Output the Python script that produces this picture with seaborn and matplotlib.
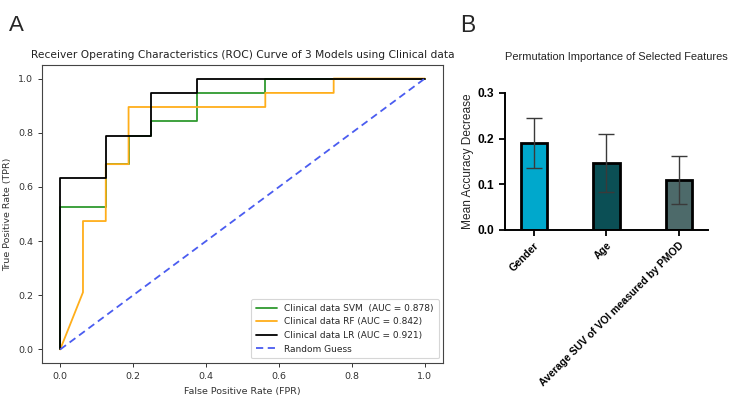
import numpy as np
import pandas as pd
import matplotlib
matplotlib.use("Agg")
import matplotlib.pyplot as plt
import seaborn as sns

# ROC curve points
svm_fpr = [0, 0, 0.125, 0.125, 0.1875, 0.1875, 0.25, 0.25, 0.375, 0.375, 0.5625, 0.5625, 1.0]
svm_tpr = [0, 0.526, 0.526, 0.684, 0.684, 0.789, 0.789, 0.842, 0.842, 0.947, 0.947, 1.0, 1.0]

rf_fpr = [0, 0.0625, 0.0625, 0.125, 0.125, 0.1875, 0.1875, 0.5625, 0.5625, 0.75, 0.75, 1.0]
rf_tpr = [0, 0.211, 0.474, 0.474, 0.684, 0.684, 0.895, 0.895, 0.947, 0.947, 1.0, 1.0]

lr_fpr = [0, 0, 0.125, 0.125, 0.25, 0.25, 0.375, 0.375, 1.0]
lr_tpr = [0, 0.632, 0.632, 0.789, 0.789, 0.947, 0.947, 1.0, 1.0]

guess_x = [0, 1]
guess_y = [0, 1]

# permutation importance (panel B)
features = ["Gender", "Age", "Average SUV of VOI measured by PMOD"]
imp_mean = [0.191, 0.146, 0.109]
imp_err = [0.055, 0.063, 0.052]
bar_colors = ["#00a8cc", "#0b4f55", "#4d6a6a"]

sns.set_theme(style="ticks")
plt.rcParams["font.family"] = ["DejaVu Sans"]
arial = ["Liberation Sans", "DejaVu Sans"]

fig = plt.figure(figsize=(7.36, 4.04), dpi=100)

# ---- panel A ----
ax1 = fig.add_axes([0.057, 0.1015, 0.545, 0.7376])
roc = [
    (svm_fpr, svm_tpr, "#2f9a2f", "Clinical data SVM  (AUC = 0.878)"),
    (rf_fpr, rf_tpr, "#ffae1a", "Clinical data RF (AUC = 0.842)"),
    (lr_fpr, lr_tpr, "black", "Clinical data LR (AUC = 0.921)"),
]
for fx, ty, c, lab in roc:
    df = pd.DataFrame({"fpr": fx, "tpr": ty})
    sns.lineplot(data=df, x="fpr", y="tpr", sort=False, estimator=None,
                 color=c, lw=1.3, label=lab, ax=ax1)
sns.lineplot(x=guess_x, y=guess_y, color="#4a5cf0", lw=1.3, ls="--",
             label="Random Guess", ax=ax1)
ax1.lines[-1].set_dashes([4, 2.5])

ax1.set_xlim(-0.05, 1.05)
ax1.set_ylim(-0.05, 1.05)
ax1.set_xticks([0, 0.2, 0.4, 0.6, 0.8, 1.0])
ax1.set_yticks([0, 0.2, 0.4, 0.6, 0.8, 1.0])
ax1.tick_params(labelsize=6.8, length=3, width=0.7, colors="#333333")
for s in ax1.spines.values():
    s.set_linewidth(0.8)
    s.set_color("#444444")
    s.set_visible(True)
ax1.set_xlabel("False Positive Rate (FPR)", fontsize=6.8, color="#333333")
ax1.set_ylabel("True Positive Rate (TPR)", fontsize=6.8, color="#333333")
ax1.set_title("Receiver Operating Characteristics (ROC) Curve of 3 Models using Clinical data",
              fontsize=7.7, color="#222222", pad=5)
leg = ax1.legend(loc="lower right", fontsize=6.5, frameon=True, handlelength=2.3,
                 borderpad=0.55, labelspacing=0.5)
leg.get_frame().set_edgecolor("#cccccc")
leg.get_frame().set_linewidth(0.8)

# ---- panel B ----
ax2 = fig.add_axes([0.686, 0.431, 0.276, 0.339])
sns.barplot(x=features, y=imp_mean, hue=features, palette=bar_colors, legend=False,
            saturation=1, edgecolor="black", linewidth=2.0, width=0.36, ax=ax2)
ax2.errorbar(range(len(features)), imp_mean, yerr=imp_err, fmt="none",
             ecolor="#3a3a3a", elinewidth=1.0, capsize=5.5, capthick=1.0, zorder=5)
ax2.set_xlim(-0.4, 2.4)
ax2.set_ylim(0, 0.3)
ax2.set_yticks([0.0, 0.1, 0.2, 0.3])
ax2.set_yticklabels(["0.0", "0.1", "0.2", "0.3"])
sns.despine(ax=ax2)
for s in ["left", "bottom"]:
    ax2.spines[s].set_linewidth(1.4)
    ax2.spines[s].set_color("black")
ax2.tick_params(axis="both", length=4, width=1.3, colors="black")
for t in ax2.get_yticklabels():
    t.set_fontsize(8.6)
    t.set_fontweight("bold")
    t.set_family(arial)
ax2.set_xticks(range(len(features)))
ax2.set_xticklabels(features, rotation=45, ha="right", rotation_mode="anchor",
                    fontsize=7.5, fontweight="bold", family=arial)
ax2.set_ylabel("Mean Accuracy Decrease", fontsize=8.6, family=arial, labelpad=3)
ax2.set_title("Permutation Importance of Selected Features", fontsize=7.9,
              family=arial, pad=24, x=0.55)

fig.text(0.012, 0.923, "A", fontsize=16, family=arial)
fig.text(0.625, 0.921, "B", fontsize=16.5, family=arial)

fig.savefig("out.png", dpi=100, facecolor="white")
